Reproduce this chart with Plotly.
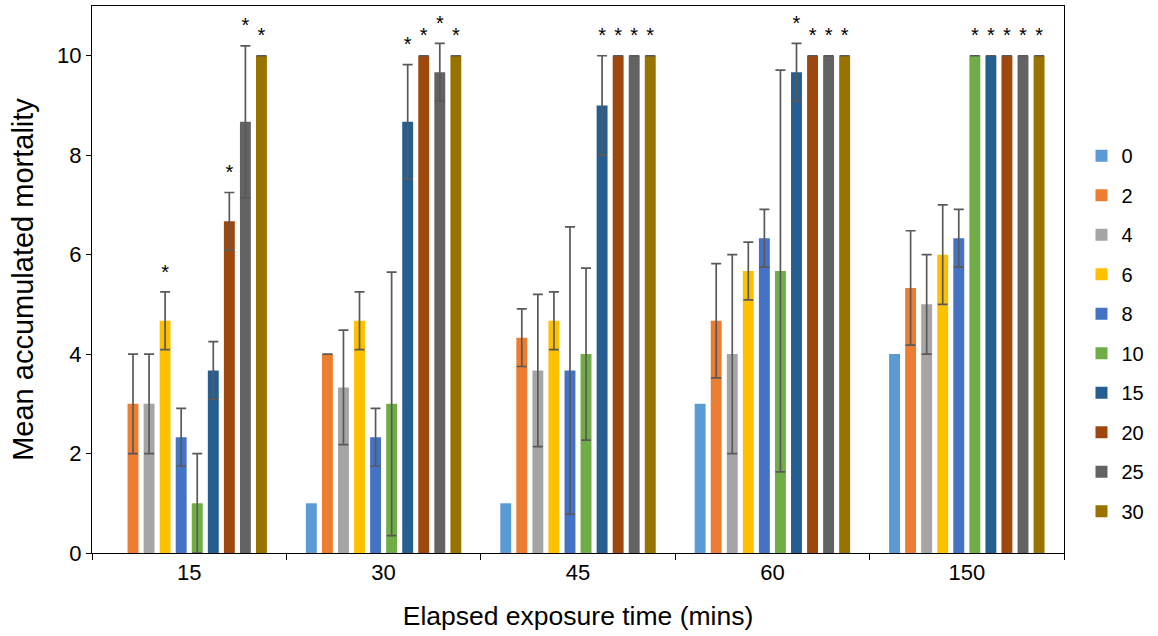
import plotly.graph_objects as go

categories = ["15", "30", "45", "60", "150"]
series_names = ["0", "2", "4", "6", "8", "10", "15", "20", "25", "30"]
colors = ["#5B9BD5", "#ED7D31", "#A5A5A5", "#FFC000", "#4472C4",
          "#70AD47", "#255E91", "#9E480E", "#636363", "#997300"]

mean_0 = [0, 1, 1, 3, 4]
mean_2 = [3, 4, 4.33, 4.67, 5.33]
mean_4 = [3, 3.33, 3.67, 4, 5]
mean_6 = [4.67, 4.67, 4.67, 5.67, 6]
mean_8 = [2.33, 2.33, 3.67, 6.33, 6.33]
mean_10 = [1, 3, 4, 5.67, 10]
mean_15 = [3.67, 8.67, 9, 9.67, 10]
mean_20 = [6.67, 10, 10, 10, 10]
mean_25 = [8.67, 9.67, 10, 10, 10]
mean_30 = [10, 10, 10, 10, 10]

err_0 = None
err_2 = [1, 0, 0.58, 1.15, 1.15]
err_4 = [1, 1.15, 1.53, 2, 1]
err_6 = [0.58, 0.58, 0.58, 0.58, 1]
err_8 = [0.58, 0.58, 2.89, 0.58, 0.58]
err_10 = [1, 2.65, 1.73, 4.04, 0]
err_15 = [0.58, 1.15, 1, 0.58, 0]
err_20 = [0.58, 0, 0, 0, 0]
err_25 = [1.53, 0.58, 0, 0, 0]
err_30 = [0, 0, 0, 0, 0]

star_0 = [0, 0, 0, 0, 0]
star_2 = [0, 0, 0, 0, 0]
star_4 = [0, 0, 0, 0, 0]
star_6 = [1, 0, 0, 0, 0]
star_8 = [0, 0, 0, 0, 0]
star_10 = [0, 0, 0, 0, 1]
star_15 = [0, 1, 1, 1, 1]
star_20 = [1, 1, 1, 1, 1]
star_25 = [1, 1, 1, 1, 1]
star_30 = [1, 1, 1, 1, 1]

means = [mean_0, mean_2, mean_4, mean_6, mean_8, mean_10, mean_15, mean_20, mean_25, mean_30]
errs = [err_0, err_2, err_4, err_6, err_8, err_10, err_15, err_20, err_25, err_30]
stars = [star_0, star_2, star_4, star_6, star_8, star_10, star_15, star_20, star_25, star_30]

FONT = "Liberation Sans, Arial, sans-serif"
fig = go.Figure()

for i, name in enumerate(series_names):
    err = errs[i]
    fig.add_trace(go.Bar(
        x=categories, y=means[i], name=name,
        marker=dict(color=colors[i], line=dict(width=0)),
        legendgroup=name,
        error_y=dict(type="data", array=err if err is not None else [0] * 5,
                     visible=err is not None, color="#595959",
                     thickness=1.7, width=5),
    ))

for i, name in enumerate(series_names):
    err = errs[i] if errs[i] is not None else [0] * 5
    ys = [means[i][k] + err[k] + 0.37 if stars[i][k] else None for k in range(5)]
    fig.add_trace(go.Scatter(
        x=categories, y=ys, mode="text", text=["*"] * 5,
        textposition="middle center",
        textfont=dict(family=FONT, size=20, color="#000000"),
        showlegend=False, hoverinfo="skip",
    ))

fig.update_layout(
    width=1158, height=636,
    margin=dict(l=92, r=94, t=6, b=83),
    barmode="group", bargap=0.174, bargroupgap=0.32,
    scattermode="group", scattergap=0.174,
    plot_bgcolor="white", paper_bgcolor="white",
    font=dict(family=FONT, size=22, color="#000000"),
    legend=dict(x=1.018, y=0.762, xanchor="left", yanchor="top",
                font=dict(size=20), tracegroupgap=10.5,
                itemwidth=30),
)
fig.update_xaxes(
    type="category", showline=True, linecolor="#000000", linewidth=1,
    mirror=True, ticks="outside", tickson="boundaries", ticklen=6,
    tickcolor="#000000", showgrid=False,
    tickfont=dict(size=22),
    title=dict(text="Elapsed exposure time (mins)", font=dict(size=26.5), standoff=22),
)
fig.update_yaxes(
    range=[0, 11], dtick=2, tick0=0, showline=True, linecolor="#000000",
    linewidth=1, mirror=True, ticks="outside", ticklen=5, tickcolor="#000000",
    showgrid=False, zeroline=False, tickfont=dict(size=22),
    title=dict(text="Mean accumulated mortality", font=dict(size=29), standoff=14),
)

fig.write_html("out.html")
